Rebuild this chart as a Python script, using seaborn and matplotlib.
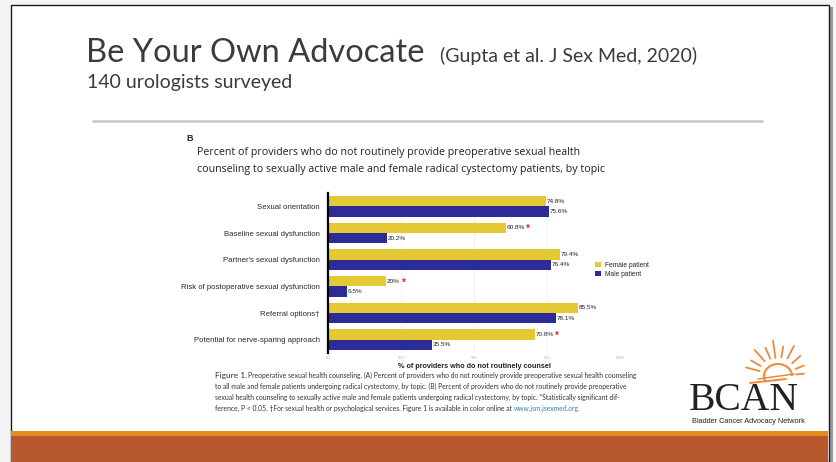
"""Slide: Be Your Own Advocate - providers not counseling, by topic and patient sex."""

import matplotlib

matplotlib.use("Agg")
import matplotlib.pyplot as plt  # noqa: E402
import numpy as np  # noqa: E402
import pandas as pd  # noqa: E402
import seaborn as sns  # noqa: E402
from matplotlib.lines import Line2D  # noqa: E402
from matplotlib.patches import Rectangle, Arc  # noqa: E402

W, H = 837, 462

topics = [
    "Sexual orientation",
    "Baseline sexual dysfunction",
    "Partner's sexual dysfunction",
    "Risk of postoperative sexual dysfunction",
    "Referral options†",
    "Potential for nerve-sparing approach",
]
female = [74.8, 60.8, 79.4, 20.0, 85.5, 70.8]
male = [75.6, 20.2, 76.4, 6.5, 78.1, 35.5]
female_labels = ["74.8%", "60.8%", "79.4%", "20%", "85.5%", "70.8%"]
male_labels = ["75.6%", "20.2%", "76.4%", "6.5%", "78.1%", "35.5%"]
significant = [False, True, False, True, False, True]
groups = ["Female patient", "Male patient"]
x_ticks = [0, 25, 50, 75, 100]

YELLOW = "#E4C935"
BLUE = "#2D2B97"


def fx(x):
    return x / W


def fy(y):
    return 1 - y / H


df = pd.DataFrame(
    {
        "topic": topics * 2,
        "pct": female + male,
        "group": [groups[0]] * len(topics) + [groups[1]] * len(topics),
    }
)

sns.set_theme(style="white")
plt.rcParams["font.family"] = ["Liberation Sans", "DejaVu Sans"]

fig = plt.figure(figsize=(W / 100, H / 100), dpi=100)
fig.patch.set_facecolor("#f4f4f4")

# slide background, shadow and border
fig.patches.append(Rectangle((fx(13), 0), fx(820), fy(7), transform=fig.transFigure,
                             facecolor="#9a9a9a", edgecolor="none", zorder=-3))
fig.patches.append(Rectangle((fx(11), 0), fx(818), fy(5), transform=fig.transFigure,
                             facecolor="white", edgecolor="#1a1a1a", linewidth=1.0, zorder=-2))
# bottom orange band
fig.patches.append(Rectangle((fx(11.5), 0), fx(817), fy(431), transform=fig.transFigure,
                             facecolor="#E68A1F", edgecolor="none", zorder=-1.5))
fig.patches.append(Rectangle((fx(11.5), 0), fx(817), fy(436), transform=fig.transFigure,
                             facecolor="#B8592D", edgecolor="none", zorder=-1))

# slide title and rule
title_font = ["Lato", "DejaVu Sans"]
fig.text(fx(86), fy(62), "Be Your Own Advocate", fontsize=23.5, color="#3b3b3b",
         family=title_font, va="baseline", ha="left")
fig.text(fx(440), fy(62), "(Gupta et al. J Sex Med, 2020)", fontsize=14, color="#3b3b3b",
         family=title_font, va="baseline", ha="left")
fig.text(fx(87), fy(88), "140 urologists surveyed", fontsize=14, color="#3b3b3b",
         family=title_font, va="baseline", ha="left")
fig.lines.append(Line2D([fx(93), fx(762)], [fy(121), fy(121)], transform=fig.transFigure,
                        color="#c9c9c9", linewidth=1.8))

# figure panel header
fig.text(fx(186), fy(141), "B", fontsize=6.5, fontweight="bold", color="#222222",
         va="baseline")
fig.text(fx(197), fy(155),
         "Percent of providers who do not routinely provide preoperative sexual health",
         fontsize=7.7, color="#222222", va="baseline", family=["Open Sans", "DejaVu Sans"])
fig.text(fx(197), fy(172),
         "counseling to sexually active male and female radical cystectomy patients, by topic",
         fontsize=7.7, color="#222222", va="baseline", family=["Open Sans", "DejaVu Sans"])

# bar chart
ax = fig.add_axes([fx(328), fy(353), fx(620) - fx(328), fy(193) - fy(353)])
ax.set_zorder(2)
ax.patch.set_alpha(0)
sns.barplot(data=df, y="topic", x="pct", hue="group", order=topics, hue_order=groups,
            palette=[YELLOW, BLUE], orient="h", width=0.78, saturation=1, ax=ax,
            edgecolor="none", legend=True)
ax.set_xlim(0, 100)
ax.set_xticks(x_ticks)
ax.set_xticklabels([f"{t}%" for t in x_ticks], fontsize=2.5, color="#aaaaaa")
ax.tick_params(axis="x", length=0, pad=2)
ax.tick_params(axis="y", length=0, pad=6, labelsize=5.6, labelcolor="#2a2a2a")
ax.set_ylabel("")
ax.set_xlabel("% of providers who do not routinely counsel", fontsize=5.2,
              fontweight="bold", color="#222222", labelpad=2)
ax.xaxis.grid(True, color="#f0f0f0", linewidth=0.6)
ax.set_axisbelow(True)
for side in ["top", "right", "bottom"]:
    ax.spines[side].set_visible(False)
ax.spines["left"].set_color("black")
ax.spines["left"].set_linewidth(1.6)

f_texts = ax.bar_label(ax.containers[0], labels=female_labels, fontsize=4.6, padding=0.5,
                       color="#222222")
ax.bar_label(ax.containers[1], labels=male_labels, fontsize=4.6, padding=0.5, color="#222222")

ax.legend(loc="center left", bbox_to_anchor=(0.895, 0.52), fontsize=4.8, frameon=False,
          handlelength=0.9, handleheight=0.9, handletextpad=0.5, labelspacing=0.25)

# significance stars right after the female labels
fig.canvas.draw()
renderer = fig.canvas.get_renderer()
for txt, sig in zip(f_texts, significant):
    if sig:
        ext = txt.get_window_extent(renderer)
        fig.text(ext.x1 / W + fx(1.5), (ext.y0 + ext.y1) / 2 / H - 1.5 / H, "*",
                 fontsize=7, color="#d0312d", fontweight="bold", va="center", ha="left",
                 zorder=5)

# caption
cap_font = ["Lato", "DejaVu Sans"]
cap_size = 4.9
fig.text(fx(215), fy(378), "Figure 1.", fontsize=6.0, color="#333333", family=cap_font,
         va="baseline")
fig.text(fx(248), fy(378),
         "Preoperative sexual health counseling. (A) Percent of providers who do not routinely "
         "provide preoperative sexual health counseling",
         fontsize=cap_size, color="#333333", family=cap_font, va="baseline")
fig.text(fx(215), fy(389),
         "to all male and female patients undergoing radical cystectomy, by topic. (B) Percent of "
         "providers who do not routinely provide preoperative",
         fontsize=cap_size, color="#333333", family=cap_font, va="baseline")
fig.text(fx(215), fy(400),
         "sexual health counseling to sexually active male and female patients undergoing radical "
         "cystectomy, by topic. *Statistically significant dif-",
         fontsize=cap_size, color="#333333", family=cap_font, va="baseline")
last = fig.text(fx(215), fy(411),
                "ference, P < 0.05. †For sexual health or psychological services. "
                "Figure 1 is available in color online at",
                fontsize=cap_size, color="#333333", family=cap_font, va="baseline")
fig.canvas.draw()
bb = last.get_window_extent()
fig.text(fx(bb.x1 + 2), fy(411), "www.jsm.jsexmed.org.", fontsize=cap_size, color="#3a7fb5",
         family=cap_font, va="baseline")

# BCAN logo
sun = "#EE8A3A"
logo = fig.add_axes([fx(686), fy(428), fx(824) - fx(686), fy(335) - fy(428)])
logo.set_zorder(2)
logo.patch.set_alpha(0)
logo.set_xlim(686, 824)
logo.set_ylim(428, 335)
logo.axis("off")
cx, cy = 778, 376
logo.add_patch(Arc((cx, cy), 28, 24, theta1=160, theta2=360, color=sun, lw=1.5))
logo.plot([750, 786], [383, 379], color=sun, lw=1.4, solid_capstyle="round")
logo.plot([758, 794], [379, 374], color=sun, lw=1.1, solid_capstyle="round")
for ang, r0, r1 in [(195, 19, 33), (210, 20, 31), (228, 20, 35), (246, 19, 31),
                    (262, 18, 36), (280, 19, 30), (298, 20, 34), (318, 19, 30),
                    (338, 19, 28), (355, 18, 26)]:
    a = np.deg2rad(ang)
    logo.plot([cx + r0 * np.cos(a), cx + r1 * np.cos(a)],
              [cy + r0 * np.sin(a), cy + r1 * np.sin(a)],
              color=sun, lw=1.3, solid_capstyle="round")
logo.text(689, 410, "BCAN", fontsize=28.5, family=["Liberation Serif", "DejaVu Serif"],
          color="#222222", va="baseline", ha="left")
logo.text(692, 423, "Bladder Cancer Advocacy Network", fontsize=5.3, color="#222222",
          va="baseline", ha="left")

fig.savefig("out.png", dpi=100, facecolor=fig.get_facecolor())
